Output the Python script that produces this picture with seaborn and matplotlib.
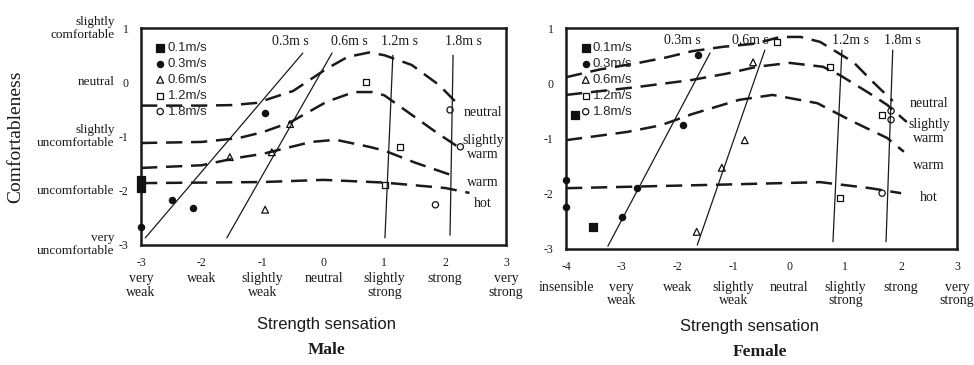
import numpy as np
import pandas as pd
import matplotlib
matplotlib.use("Agg")
import matplotlib.pyplot as plt
import seaborn as sns

# ---- male panel data ----
m_neutral_x = [-3, -2, -1.5, -1.1, -0.5, 0.05, 0.4, 0.75, 1.0, 1.45, 1.9, 2.25]
m_neutral_y = [-0.43, -0.43, -0.42, -0.38, -0.16, 0.25, 0.47, 0.55, 0.5, 0.32, -0.05, -0.45]
m_swarm_x = [-3, -2, -1.4, -1.0, -0.55, 0.05, 0.5, 0.8, 1.0, 1.45, 1.85, 2.25]
m_swarm_y = [-1.12, -1.1, -1.03, -0.92, -0.74, -0.36, -0.18, -0.18, -0.24, -0.6, -0.92, -1.22]
m_warm_x = [-3, -2, -1.45, -1.0, -0.2, 0.2, 0.75, 1.0, 1.5, 2.2]
m_warm_y = [-1.58, -1.53, -1.4, -1.32, -1.1, -1.06, -1.19, -1.26, -1.48, -1.75]
m_hot_x = [-3, -1, 0, 1, 2, 2.4]
m_hot_y = [-1.86, -1.84, -1.8, -1.85, -1.95, -2.04]

m_iso_03 = ([-2.93, -0.34], [-2.87, 0.54])
m_iso_06 = ([-1.59, 0.14], [-2.87, 0.54])
m_iso_12 = ([1.01, 1.14], [-2.87, 0.5])
m_iso_18 = ([2.08, 2.13], [-2.82, 0.5])

m_pts = {
    "0.1m/s": ([-3, -3], [-1.8, -1.95]),
    "0.3m/s": ([-3, -2.49, -2.14, -0.96], [-2.67, -2.17, -2.32, -0.57]),
    "0.6m/s": ([-1.54, -0.85, -0.96, -0.55], [-1.38, -1.29, -2.35, -0.77]),
    "1.2m/s": ([0.7, 1.26, 1.01], [0.0, -1.19, -1.9]),
    "1.8m/s": ([2.08, 2.25, 1.84], [-0.51, -1.19, -2.26]),
}

# ---- female panel data ----
f_neutral_x = [-4, -3.4, -2.7, -2.2, -1.75, -1.2, -0.6, -0.17, 0.2, 0.55, 1.15, 1.5, 1.85]
f_neutral_y = [0.11, 0.25, 0.37, 0.47, 0.58, 0.66, 0.72, 0.84, 0.84, 0.75, 0.38, 0.02, -0.32]
f_swarm_x = [-4, -2.75, -1.75, -1.1, -0.58, 0.0, 0.6, 0.9, 1.4, 1.75, 2.1]
f_swarm_y = [-0.21, -0.07, 0.06, 0.18, 0.3, 0.37, 0.3, 0.15, -0.16, -0.39, -0.7]
f_warm_x = [-4, -2.9, -2.3, -1.75, -0.9, -0.3, 0.5, 1.15, 1.75, 2.05]
f_warm_y = [-1.03, -0.88, -0.76, -0.56, -0.3, -0.21, -0.36, -0.7, -0.99, -1.24]
f_hot_x = [-4, -1, 0.55, 1.45, 2.0]
f_hot_y = [-1.9, -1.83, -1.79, -1.9, -1.99]

f_iso_03 = ([-3.25, -1.42], [-2.95, 0.55])
f_iso_06 = ([-1.65, -0.44], [-2.93, 0.6])
f_iso_12 = ([0.78, 0.94], [-2.87, 0.6])
f_iso_18 = ([1.73, 1.85], [-2.87, 0.6])

f_pts = {
    "0.1m/s": ([-3.84, -3.52], [-0.57, -2.6]),
    "0.3m/s": ([-4, -4, -2.73, -3.0, -1.9, -1.64], [-1.75, -2.24, -1.9, -2.42, -0.76, 0.51]),
    "0.6m/s": ([-0.65, -0.8, -1.21, -1.66], [0.38, -1.03, -1.53, -2.69]),
    "1.2m/s": ([-0.22, 0.73, 1.66, 0.9], [0.75, 0.3, -0.57, -2.08]),
    "1.8m/s": ([1.82, 1.82, 1.66], [-0.5, -0.66, -1.99]),
}

m_xticks = [-3, -2, -1, 0, 1, 2, 3]
m_xwords = ["very\nweak", "weak", "slightly\nweak", "neutral", "slightly\nstrong", "strong", "very\nstrong"]
f_xticks = [-4, -3, -2, -1, 0, 1, 2, 3]
f_xwords = ["insensible", "very\nweak", "weak", "slightly\nweak", "neutral", "slightly\nstrong", "strong", "very\nstrong"]
m_yticks = [1, 0, -1, -2, -3]
m_ywords = ["slightly\ncomfortable", "neutral", "slightly\nuncomfortable", "uncomfortable", "very\nuncomfortable"]
curve_labels = ["neutral", "slightly\nwarm", "warm", "hot"]

styles = {
    "0.1m/s": dict(marker="s", facecolor="#111111", edgecolor="#111111", s=26),
    "0.3m/s": dict(marker="o", facecolor="#111111", edgecolor="#111111", s=20),
    "0.6m/s": dict(marker="^", facecolor="none", edgecolor="#111111", s=24),
    "1.2m/s": dict(marker="s", facecolor="none", edgecolor="#111111", s=20),
    "1.8m/s": dict(marker="o", facecolor="none", edgecolor="#111111", s=20),
}

sns.set_theme(style="white")
plt.rcParams["font.family"] = ["Liberation Serif", "DejaVu Serif"]
serif = "Liberation Serif"
sans = "Liberation Sans"
ink = "#1a1a1a"

fig = plt.figure(figsize=(9.74, 3.65), dpi=100)
axm = fig.add_axes([0.1448, 0.329, 0.3747, 0.594])
axf = fig.add_axes([0.5811, 0.318, 0.4014, 0.605])


def draw_panel(ax, curves, isos, pts, iso_lab_x, iso_lab_y, lab_x, lab_y):
    for cx, cy in curves:
        sns.lineplot(x=cx, y=cy, ax=ax, color=ink, lw=1.8, sort=False,
                     linestyle=(0, (6.5, 3.5)), estimator=None)
    for ix, iy in isos:
        sns.lineplot(x=ix, y=iy, ax=ax, color=ink, lw=0.9, sort=False, estimator=None)
    for name, (px, py) in pts.items():
        st = styles[name]
        ax.scatter(px, py, marker=st["marker"], facecolors=st["facecolor"],
                   edgecolors=st["edgecolor"], s=st["s"], linewidths=0.9,
                   label=name, zorder=5, clip_on=False)
    for t, x in zip(["0.3m s", "0.6m s", "1.2m s", "1.8m s"], iso_lab_x):
        ax.text(x, iso_lab_y, t, ha="center", va="center", fontsize=10, family=serif,
                color=ink)
    for t, y in zip(curve_labels, lab_y):
        ax.text(lab_x, y, t, ha="center", va="center", fontsize=10, family=serif,
                linespacing=1.1, color=ink)
    ax.legend(loc="upper left", bbox_to_anchor=(0.02, 0.96), frameon=False,
              handletextpad=0.05, labelspacing=0.28, borderaxespad=0,
              handlelength=1.0, prop={"family": sans, "size": 9.5})
    for sp in ax.spines.values():
        sp.set_visible(True)
        sp.set_color(ink)
        sp.set_linewidth(1.8)
    ax.tick_params(which="both", direction="in", length=3, width=0.8, colors=ink,
                   labelsize=8.5, pad=9)
    ax.tick_params(which="minor", length=2)
    ax.set_xlabel("")
    ax.set_ylabel("")


draw_panel(axm,
           [(m_neutral_x, m_neutral_y), (m_swarm_x, m_swarm_y),
            (m_warm_x, m_warm_y), (m_hot_x, m_hot_y)],
           [m_iso_03, m_iso_06, m_iso_12, m_iso_18], m_pts,
           [-0.55, 0.42, 1.25, 2.3], 0.76,
           2.62, [-0.55, -1.2, -1.84, -2.23])
axm.set_xlim(-3, 3)
axm.set_ylim(-3, 1)
axm.set_xticks(m_xticks)
axm.set_xticks(np.arange(-2.5, 3, 1.0), minor=True)
axm.set_xticklabels([str(v) for v in m_xticks])
axm.set_yticks(m_yticks)
axm.set_yticks(np.arange(-2.5, 1, 1.0), minor=True)
axm.set_yticklabels([str(v) for v in m_yticks])
for x, w in zip(m_xticks, m_xwords):
    axm.text(x, -0.125, w, transform=axm.get_xaxis_transform(), ha="center",
             va="top", fontsize=10, linespacing=1.05, color=ink)
for y, w in zip(m_yticks, m_ywords):
    axm.text(-0.072, y, w, transform=axm.get_yaxis_transform(), ha="right",
             va="center", fontsize=9.5, linespacing=1.1, color=ink)
fig.text(0.016, 0.625, "Comfortableness", rotation=90, ha="center", va="center",
         fontsize=14, color=ink)
fig.text(0.335, 0.11, "Strength sensation", ha="center", va="center",
         fontsize=12, family=sans, color=ink)
fig.text(0.335, 0.04, "Male", ha="center", va="center", fontsize=12.5,
         fontweight="bold", color=ink)

draw_panel(axf,
           [(f_neutral_x, f_neutral_y), (f_swarm_x, f_swarm_y),
            (f_warm_x, f_warm_y), (f_hot_x, f_hot_y)],
           [f_iso_03, f_iso_06, f_iso_12, f_iso_18], f_pts,
           [-1.92, -0.7, 1.1, 2.02], 0.77,
           2.5, [-0.36, -0.87, -1.48, -2.07])
axf.set_xlim(-4, 3)
axf.set_ylim(-3, 1)
axf.set_xticks(f_xticks)
axf.set_xticks(np.arange(-3.5, 3, 1.0), minor=True)
axf.set_xticklabels([str(v) for v in f_xticks])
axf.set_yticks(m_yticks)
axf.set_yticks(np.arange(-2.5, 1, 1.0), minor=True)
axf.set_yticklabels([str(v) for v in m_yticks])
for x, w in zip(f_xticks, f_xwords):
    axf.text(x, -0.145, w, transform=axf.get_xaxis_transform(), ha="center",
             va="top", fontsize=10, linespacing=1.05, color=ink)
fig.text(0.77, 0.105, "Strength sensation", ha="center", va="center",
         fontsize=12, family=sans, color=ink)
fig.text(0.78, 0.035, "Female", ha="center", va="center", fontsize=12.5,
         fontweight="bold", color=ink)

fig.savefig("out.png", dpi=100)
